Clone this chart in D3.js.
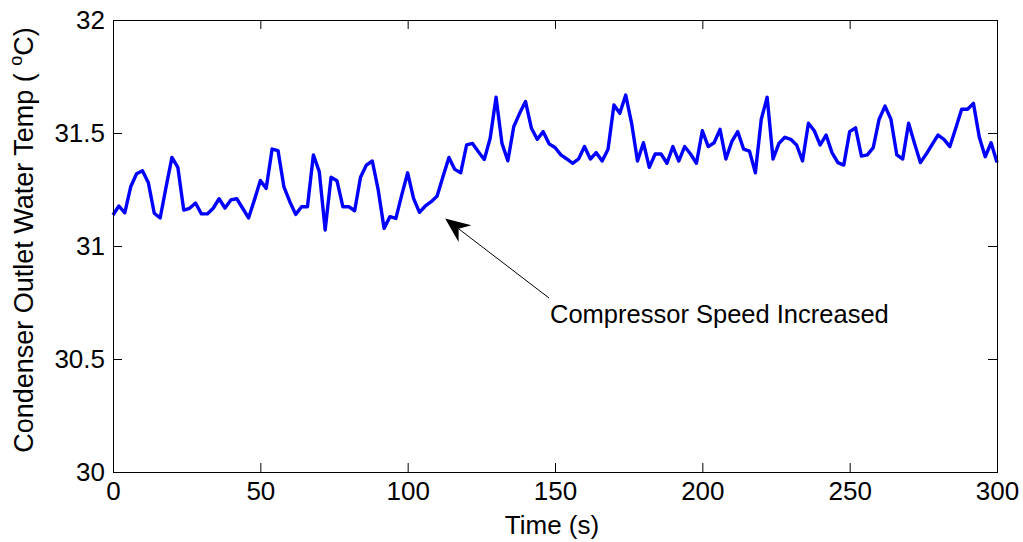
<!DOCTYPE html>
<html>
<head>
<meta charset="utf-8">
<script src="https://cdn.jsdelivr.net/npm/d3@7"></script>
<style>
  html, body { margin: 0; padding: 0; background: #fff; }
  svg { display: block; }
  text { font-family: "Liberation Sans", Arial, Helvetica, sans-serif; fill: #000; }
</style>
</head>
<body>
<svg id="chart" width="1023" height="542"></svg>
<script>
const timeSec = [0,2,4,6,8,10,12,14,16,18,20,22,24,26,28,30,32,34,36,38,40,42,44,46,48,
  50,52,54,56,58,60,62,64,66,68,70,72,74,76,78,80,82,84,86,88,90,92,94,96,98,
  100,102,104,106,108,110,112,114,116,118,120,122,124,126,128,130,132,134,136,138,140,142,144,146,148,
  150,152,154,156,158,160,162,164,166,168,170,172,174,176,178,180,182,184,186,188,190,192,194,196,198,
  200,202,204,206,208,210,212,214,216,218,220,222,224,226,228,230,232,234,236,238,240,242,244,246,248,
  250,252,254,256,258,260,262,264,266,268,270,272,274,276,278,280,282,284,286,288,290,292,294,296,298,300];

const tempC = [31.137,31.177,31.147,31.262,31.32,31.333,31.28,31.145,31.124,31.26,
  31.392,31.348,31.159,31.167,31.19,31.142,31.142,31.167,31.209,31.168,
  31.204,31.209,31.167,31.124,31.204,31.29,31.255,31.429,31.422,31.262,
  31.196,31.14,31.174,31.174,31.403,31.329,31.071,31.304,31.289,31.174,
  31.174,31.156,31.304,31.358,31.376,31.248,31.078,31.13,31.122,31.226,
  31.324,31.211,31.149,31.177,31.196,31.221,31.307,31.392,31.339,31.324,
  31.447,31.454,31.417,31.383,31.477,31.658,31.454,31.377,31.528,31.587,
  31.639,31.521,31.472,31.506,31.452,31.436,31.403,31.385,31.366,31.385,
  31.44,31.385,31.413,31.376,31.428,31.624,31.587,31.668,31.543,31.376,
  31.457,31.348,31.407,31.407,31.366,31.44,31.376,31.44,31.407,31.366,
  31.51,31.44,31.457,31.516,31.385,31.462,31.506,31.429,31.42,31.324,
  31.561,31.658,31.385,31.454,31.481,31.472,31.447,31.376,31.543,31.51,
  31.447,31.491,31.413,31.369,31.358,31.506,31.523,31.398,31.403,31.435,
  31.561,31.619,31.561,31.403,31.385,31.543,31.454,31.369,31.407,31.45,
  31.491,31.472,31.44,31.521,31.605,31.605,31.631,31.481,31.395,31.457,31.369];

const xTicks = [0, 50, 100, 150, 200, 250, 300];
const yTicks = [30, 30.5, 31, 31.5, 32];
const yTickLabels = ["30", "30.5", "31", "31.5", "32"];
const xLabel = "Time (s)";
const annotationText = "Compressor Speed Increased";
const annotationTarget = [110, 31.175];   // point (s, °C) the arrow points at

const svg = d3.select("#chart");
const L = 113, R = 997, T = 20, B = 472;

const x = d3.scaleLinear().domain([0, 300]).range([L, R]);
const y = d3.scaleLinear().domain([30, 32]).range([B, T]);

const fsTick = 26;

// Data line
svg.append("path")
  .datum(timeSec.map((t, i) => [t, tempC[i]]))
  .attr("fill", "none")
  .attr("stroke", "#0000ff")
  .attr("stroke-width", 3.4)
  .attr("stroke-linejoin", "round")
  .attr("d", d3.line().x(d => x(d[0])).y(d => y(d[1])));

// Axes (inward ticks, box)
const bottomAx = d3.axisBottom(x).tickValues(xTicks).tickSize(-9).tickPadding(10).tickFormat(d3.format("d"));
const topAx = d3.axisTop(x).tickValues(xTicks).tickSize(-9).tickFormat("");
const leftAx = d3.axisLeft(y).tickValues(yTicks).tickSize(-9).tickPadding(8)
  .tickFormat((d, i) => yTickLabels[i]);
const rightAx = d3.axisRight(y).tickValues(yTicks).tickSize(-9).tickFormat("");

function style(g) {
  g.select(".domain").attr("stroke", "#000").attr("stroke-width", 1);
  g.selectAll(".tick line").attr("stroke", "#000").attr("stroke-width", 1);
  g.selectAll(".tick text").attr("font-size", fsTick).attr("font-family", "'Liberation Sans', Arial, sans-serif").attr("fill", "#000");
}
svg.append("g").attr("transform", `translate(0,${B})`).call(bottomAx).call(style);
svg.append("g").attr("transform", `translate(0,${T})`).call(topAx).call(style);
svg.append("g").attr("transform", `translate(${L},0)`).call(leftAx).call(style);
svg.append("g").attr("transform", `translate(${R},0)`).call(rightAx).call(style);

// Axis labels
svg.append("text")
  .attr("x", (L + R) / 2 - 3).attr("y", 534)
  .attr("text-anchor", "middle").attr("font-size", 26)
  .text(xLabel);

const yl = svg.append("text")
  .attr("transform", `translate(33,${(T + B) / 2 - 6}) rotate(-90)`)
  .attr("text-anchor", "middle").attr("font-size", 27);
yl.append("tspan").text("Condenser Outlet Water Temp ( ");
yl.append("tspan").attr("font-size", 18).attr("dy", -11).text("o");
yl.append("tspan").attr("dy", 11).text("C)");

// Annotation
const tipX = x(annotationTarget[0]) + 8, tipY = y(annotationTarget[1]) + 12;
const tailX = 549, tailY = 298;
const ang = Math.atan2(tailY - tipY, tailX - tipX);
const hl = 25, hw = 10.5, notch = 17;
const ux = Math.cos(ang), uy = Math.sin(ang);
const px = -uy, py = ux;
const b1 = [tipX + ux * hl + px * hw, tipY + uy * hl + py * hw];
const b2 = [tipX + ux * hl - px * hw, tipY + uy * hl - py * hw];
const nb = [tipX + ux * notch, tipY + uy * notch];

svg.append("line")
  .attr("x1", tailX).attr("y1", tailY).attr("x2", nb[0]).attr("y2", nb[1])
  .attr("stroke", "#000").attr("stroke-width", 1);
svg.append("path")
  .attr("d", `M${tipX},${tipY}L${b1[0]},${b1[1]}L${nb[0]},${nb[1]}L${b2[0]},${b2[1]}Z`)
  .attr("fill", "#000");

svg.append("text")
  .attr("x", 550).attr("y", 323)
  .attr("font-size", 25.5)
  .text(annotationText);
</script>
</body>
</html>
